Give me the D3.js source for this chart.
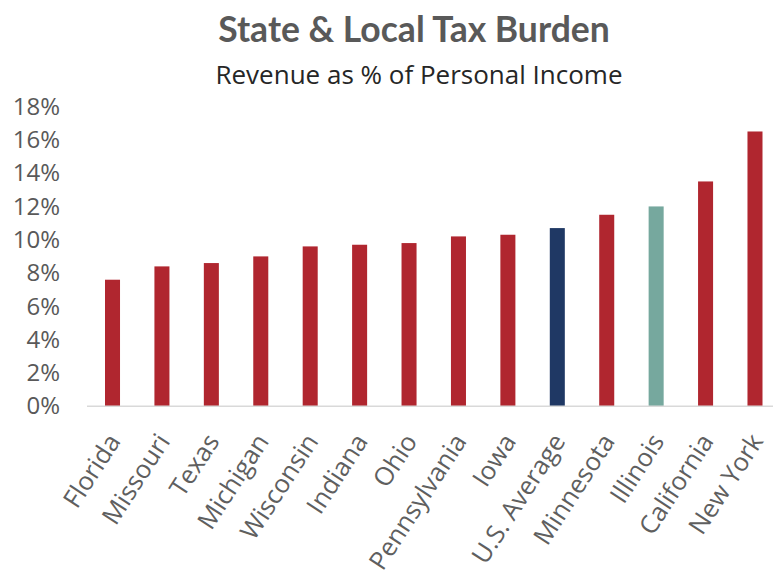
<!DOCTYPE html>
<html>
<head>
<meta charset="utf-8">
<script src="https://cdn.jsdelivr.net/npm/d3@7"></script>
<style>
  html, body { margin: 0; padding: 0; background: #fff; }
  svg { display: block; }
</style>
</head>
<body>
<svg id="chart" width="773" height="578"></svg>
<script>
const categories = ["Florida","Missouri","Texas","Michigan","Wisconsin","Indiana","Ohio","Pennsylvania","Iowa","U.S. Average","Minnesota","Illinois","California","New York"];
const values = [7.6, 8.4, 8.6, 9.0, 9.6, 9.7, 9.8, 10.2, 10.3, 10.7, 11.5, 12.0, 13.5, 16.5];
const barColors = ["#b0262f","#b0262f","#b0262f","#b0262f","#b0262f","#b0262f","#b0262f","#b0262f","#b0262f","#1f3864","#b0262f","#76a89e","#b0262f","#b0262f"];
const yTicks = [0, 2, 4, 6, 8, 10, 12, 14, 16, 18];
const title = "State & Local Tax Burden";
const subtitle = "Revenue as % of Personal Income";

const svg = d3.select("#chart");
const x = d3.scaleBand().domain(categories).range([87.8, 779.7]).paddingInner(0.696).paddingOuter(0.348);
const y = d3.scaleLinear().domain([0, 18]).range([406.3, 106.5]);

svg.append("text").attr("x", 414).attr("y", 41.5).attr("text-anchor", "middle")
  .style("font-family", "Lato").style("font-weight", "bold").style("font-size", "35.5px")
  .style("fill", "#595959").text(title);
svg.append("text").attr("x", 419).attr("y", 84).attr("text-anchor", "middle")
  .style("font-family", "Open Sans").style("font-size", "26px")
  .style("fill", "#262626").text(subtitle);

// y axis labels
const yAxis = d3.axisLeft(y).tickValues(yTicks).tickFormat(d => d + "%").tickSize(0).tickPadding(0);
const yg = svg.append("g").attr("transform", "translate(60,0)").call(yAxis);
yg.select(".domain").remove();
yg.selectAll("text").style("font-family", "Open Sans").style("font-size", "24px").style("fill", "#595959");

// bars
svg.append("g").selectAll("rect").data(categories).join("rect")
  .attr("x", d => x(d)).attr("width", x.bandwidth())
  .attr("y", (d, i) => y(values[i])).attr("height", (d, i) => y(0) - y(values[i]))
  .attr("fill", (d, i) => barColors[i]);

// x axis
const xAxis = d3.axisBottom(x).tickSize(0).tickPadding(0);
const xg = svg.append("g").attr("transform", `translate(0,${y(0)})`).call(xAxis);
xg.select(".domain").attr("stroke", "#d9d9d9").attr("stroke-width", 1.5).attr("d", "M87,0H773");
xg.selectAll("text")
  .style("font-family", "Open Sans").style("font-size", "25.5px").style("fill", "#5f5f5f")
  .attr("text-anchor", "end").attr("x", 0).attr("y", 0).attr("dy", 0)
  .attr("transform", "translate(9,35) rotate(-57)");
</script>
</body>
</html>
